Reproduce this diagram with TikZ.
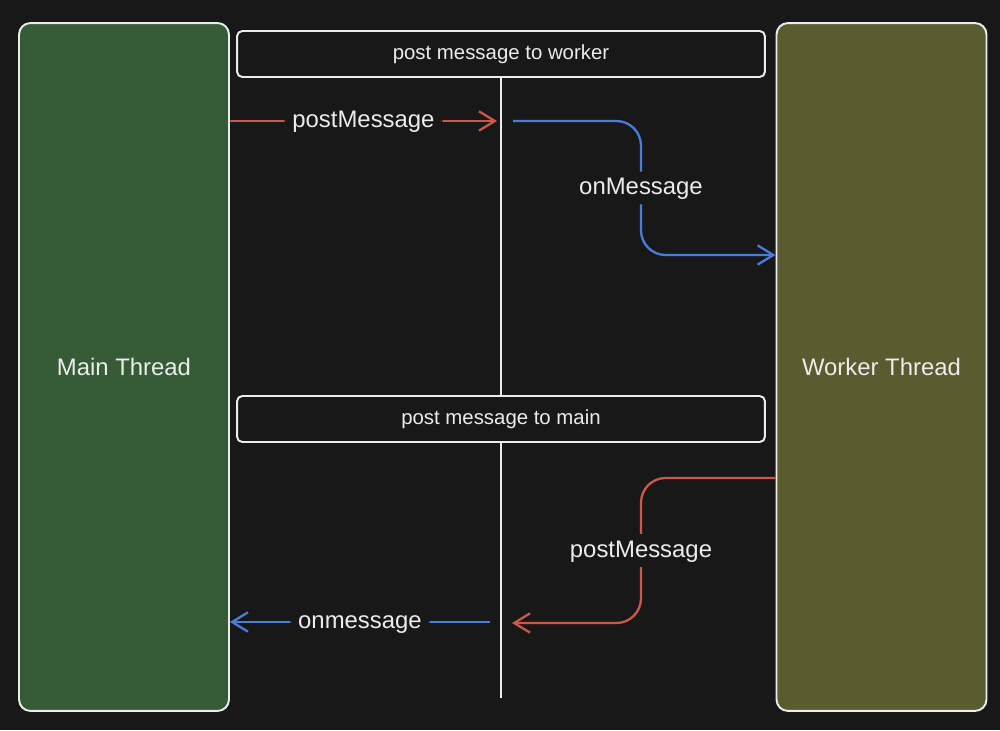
\documentclass[tikz,border=0pt]{standalone}
\usepackage{fontspec}
\setmainfont{Liberation Sans}
\usetikzlibrary{arrows.meta}
\definecolor{bg}{RGB}{24,24,24}
\definecolor{mainfill}{RGB}{54,91,55}
\definecolor{workerfill}{RGB}{91,91,48}
\definecolor{msgred}{RGB}{204,88,76}
\definecolor{msgblue}{RGB}{74,124,218}
\definecolor{ink}{RGB}{236,236,236}
\tikzset{
  thread/.style={draw=ink, line width=1.1pt, rounded corners=6.5pt,
    minimum width=4.2cm, minimum height=13.76cm, text=ink,
    font=\fontsize{13.6}{16}\selectfont},
  channel/.style={draw=ink, line width=1.1pt, fill=bg, rounded corners=3pt,
    minimum width=10.56cm, minimum height=0.92cm, text=ink,
    font=\fontsize{11.6}{14}\selectfont},
  lbl/.style={fill=bg, text=ink, inner sep=4.5pt, text height=1.6ex, text depth=0.2ex,
    font=\fontsize{13.6}{16}\selectfont},
  msg/.style={line width=1.3pt, rounded corners=14pt,
    -{Straight Barb[length=9pt,width=11pt,line width=1.3pt]}},
}
\begin{document}
\begin{tikzpicture}[x=0.02cm, y=-0.02cm]
      \fill[bg] (0,0) rectangle (1000,730);
      \draw
        (124,367) node[thread, fill=mainfill] (main){Main Thread}
        (881.5,367) node[thread, fill=workerfill] (worker){Worker Thread}
        (501,54) node[channel] (toworker){post message to worker}
        (501,419) node[channel] (tomain){post message to main};
      \coordinate (bottom) at (501,698);
      \begin{scope}[draw=ink, line width=1.1pt]
        \draw (toworker.south) to (tomain.north);
        \draw (tomain.south) to (bottom);
      \end{scope}
      % main -> channel -> worker
      \coordinate (pmEnd) at (497,121);
      \coordinate (omStart) at (513,121);
      \coordinate (omTop) at (641,121);
      \coordinate (omBot) at (641,255);
      \draw[msg, msgred] (main.east |- pmEnd) -- node[lbl]{postMessage} (pmEnd);
      \draw[msg, msgblue] (omStart) -- (omTop) -- node[lbl]{onMessage} (omBot) -- (worker.west |- omBot);
      % worker -> channel -> main
      \coordinate (wpTop) at (641,478);
      \coordinate (wpBot) at (641,623);
      \coordinate (wpEnd) at (512,623);
      \coordinate (onStart) at (490,622);
      \draw[msg, msgred] (worker.west |- wpTop) -- (wpTop) -- node[lbl]{postMessage} (wpBot) -- (wpEnd);
      \draw[msg, msgblue] (onStart) -- node[lbl]{onmessage} (main.east |- onStart);
    \end{tikzpicture}
\end{document}
